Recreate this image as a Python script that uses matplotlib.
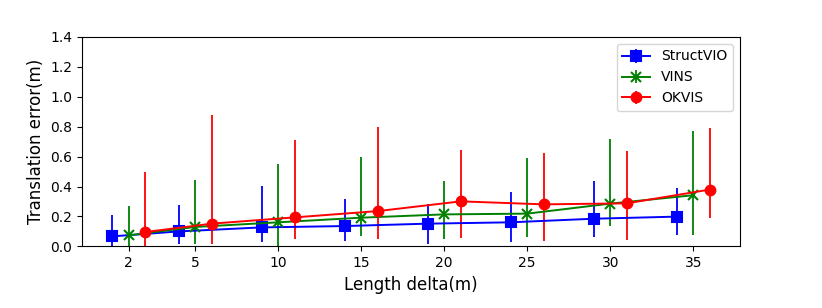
import numpy as np
import matplotlib
matplotlib.use("Agg")
import matplotlib.pyplot as plt

tick_pos = [1, 5, 10, 15, 20, 25, 30, 35]
tick_labels = ["2", "5", "10", "15", "20", "25", "30", "35"]

struct_mean = [0.067, 0.100, 0.127, 0.136, 0.152, 0.161, 0.185, 0.199]
struct_low = [0.000, 0.018, 0.029, 0.033, 0.018, 0.029, 0.062, 0.076]
struct_high = [0.212, 0.277, 0.404, 0.315, 0.286, 0.364, 0.435, 0.393]

vins_mean = [0.074, 0.130, 0.161, 0.192, 0.214, 0.219, 0.286, 0.342]
vins_low = [-0.02, 0.018, -0.02, 0.067, 0.051, 0.062, 0.136, 0.074]
vins_high = [0.272, 0.442, 0.554, 0.598, 0.440, 0.594, 0.721, 0.770]

okvis_mean = [0.096, 0.152, 0.194, 0.236, 0.301, 0.281, 0.288, 0.380]
okvis_low = [-0.02, 0.013, 0.050, 0.050, 0.058, 0.036, 0.040, 0.192]
okvis_high = [0.496, 0.880, 0.710, 0.795, 0.643, 0.627, 0.636, 0.790]

fig = plt.figure(figsize=(8.22, 3.08), dpi=100)
ax = fig.add_axes([0.1, 0.2, 0.8, 0.68])

def draw(offset, mean, low, high, color, marker, label, ms):
    x = np.array(tick_pos) + offset
    mean = np.array(mean)
    yerr = [mean - np.array(low), np.array(high) - mean]
    ax.errorbar(x, mean, yerr=yerr, color=color, marker=marker, markersize=ms,
                linewidth=1.4, elinewidth=1.3, capsize=0, label=label,
                markeredgewidth=1.5)

draw(-1, struct_mean, struct_low, struct_high, "blue", "s", "StructVIO", 7)
draw(0, vins_mean, vins_low, vins_high, "green", "x", "VINS", 6.5)
draw(1, okvis_mean, okvis_low, okvis_high, "red", "o", "OKVIS", 7)

ax.set_ylim(0, 1.4)
ax.set_yticks(np.arange(0, 1.41, 0.2))
ax.set_xticks(tick_pos)
ax.set_xticklabels(tick_labels)
ax.set_xlabel("Length delta(m)", fontsize=12)
ax.set_ylabel("Translation error(m)", fontsize=12)
ax.tick_params(labelsize=10)
ax.legend(loc="upper right", fontsize=10)

fig.savefig("out.png", dpi=100)
